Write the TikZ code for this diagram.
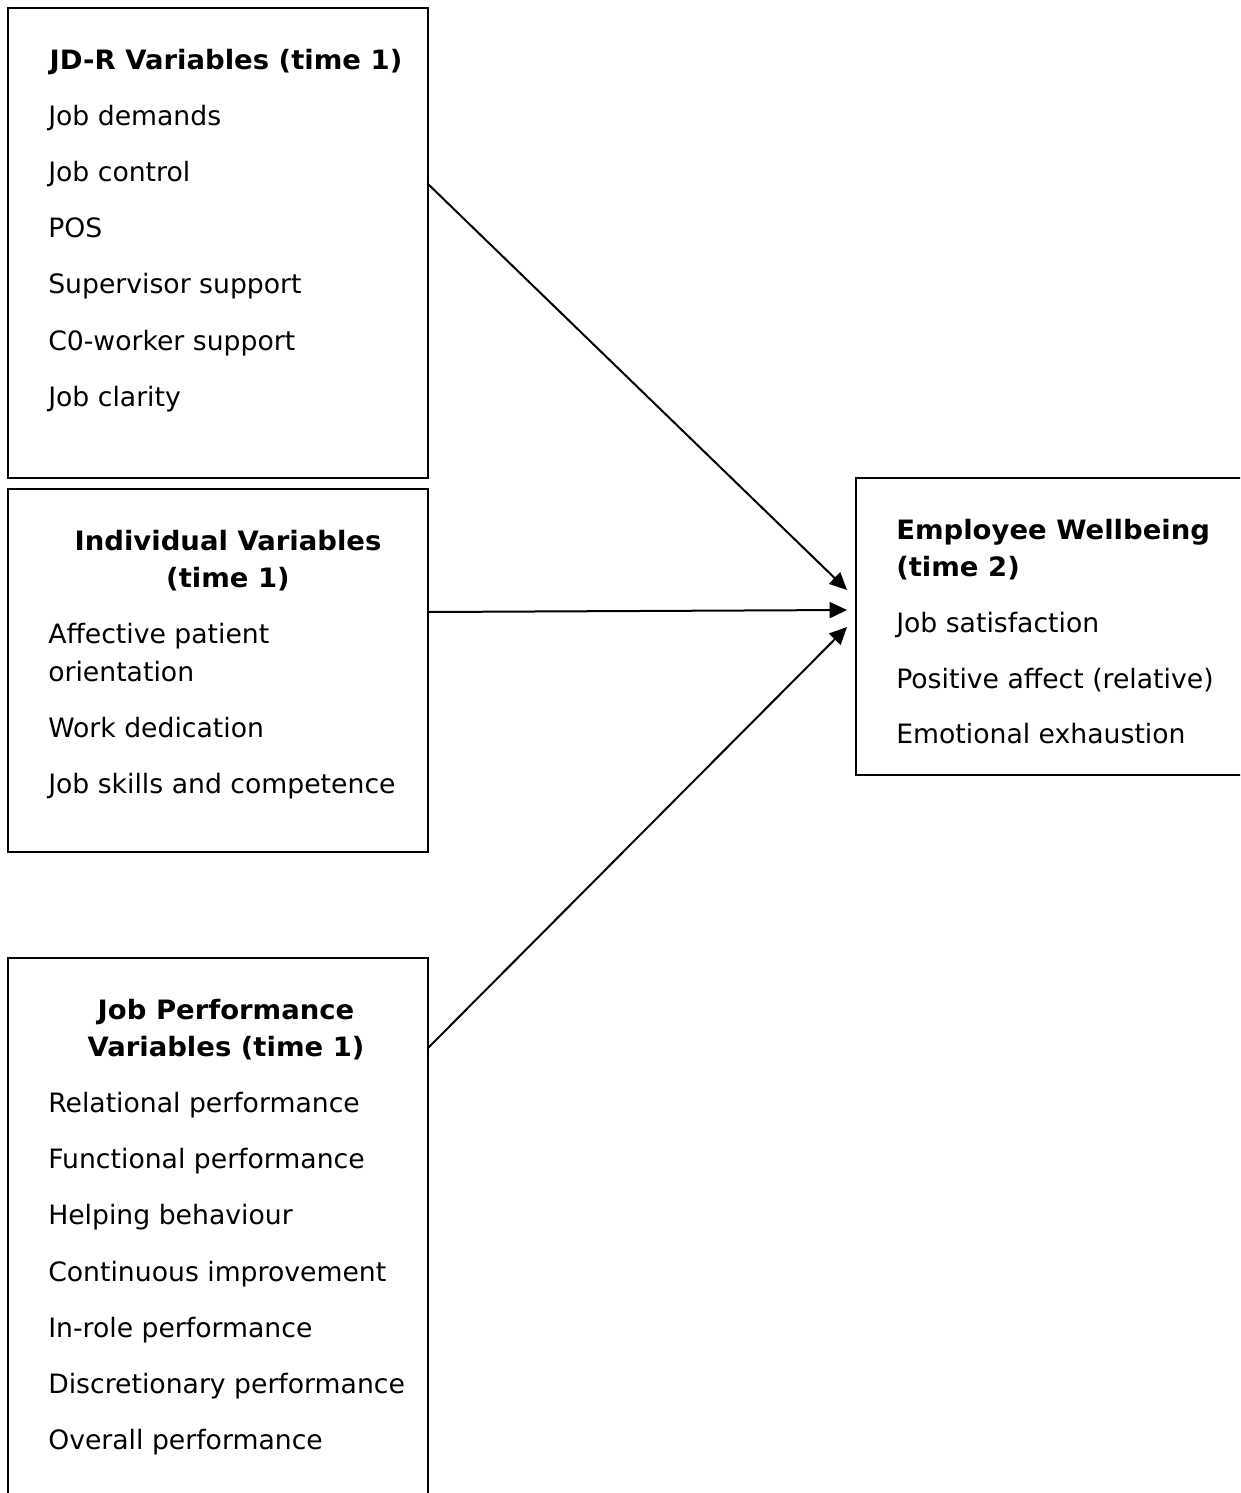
\documentclass[tikz,border=0pt]{standalone}
\usepackage{fontspec}
\setmainfont{DejaVu Sans}[BoldFeatures={FakeStretch=1.03}]
\usetikzlibrary{arrows.meta}
\begin{document}
\begin{tikzpicture}[x=0.75pt,y=-0.75pt,
  box/.style={draw=black,line width=1.5pt,inner sep=0pt},
  item/.style={anchor=base west,inner sep=0pt,font=\fontsize{20}{24}\selectfont},
  head/.style={anchor=base,inner sep=0pt,font=\fontsize{20}{24}\selectfont\bfseries},
  headl/.style={anchor=base west,inner sep=0pt,font=\fontsize{20}{24}\selectfont\bfseries},
  link/.style={line width=1.5pt,-{Triangle[length=13pt,width=12pt]}}]
\clip (0,0) rectangle (1240,1493);

% frames
\draw[box] (8,8) rectangle (428,478);
\draw[box] (8,489) rectangle (428,852);
\draw[box] (8,958) rectangle (428,1520);
\draw[box] (856,478) rectangle (1260,775);

% JD-R variables
\node[head] (jdrT) at (226,69) {JD-R Variables (time 1)};
\node[item] (jdr1) at (48,125) {Job demands};
\node[item] (jdr2) at (48,181) {Job control};
\node[item] (jdr3) at (48,237) {POS};
\node[item] (jdr4) at (48,293) {Supervisor support};
\node[item] (jdr5) at (48,350) {C0-worker support};
\node[item] (jdr6) at (48,406) {Job clarity};

% Individual variables
\node[head] (indT1) at (228,550) {Individual Variables};
\node[head] (indT2) at (228,587) {(time 1)};
\node[item] (ind1) at (48,643) {Affective patient};
\node[item] (ind2) at (48,681) {orientation};
\node[item] (ind3) at (48,737) {Work dedication};
\node[item] (ind4) at (48,793) {Job skills and competence};

% Job performance variables
\node[head] (jpT1) at (226,1019) {Job Performance};
\node[head] (jpT2) at (226,1056) {Variables (time 1)};
\node[item] (jp1) at (48,1112) {Relational performance};
\node[item] (jp2) at (48,1168) {Functional performance};
\node[item] (jp3) at (48,1224) {Helping behaviour};
\node[item] (jp4) at (48,1281) {Continuous improvement};
\node[item] (jp5) at (48,1337) {In-role performance};
\node[item] (jp6) at (48,1393) {Discretionary performance};
\node[item] (jp7) at (48,1449) {Overall performance};

% Employee wellbeing
\node[headl] (ewT1) at (896,539) {Employee Wellbeing};
\node[headl] (ewT2) at (896,576) {(time 2)};
\node[item] (ew1) at (896,632) {Job satisfaction};
\node[item] (ew2) at (896,688) {Positive affect (relative)};
\node[item] (ew3) at (896,743) {Emotional exhaustion};

% connector ends
\coordinate (jdrOut) at (428,184);
\coordinate (indOut) at (428,612);
\coordinate (jpOut) at (428,1048);
\coordinate (ewIn1) at (847,590);
\coordinate (ewIn2) at (847,610);
\coordinate (ewIn3) at (847,627);

\draw[link] (jdrOut) -- (ewIn1);
\draw[link] (indOut) -- (ewIn2);
\draw[link] (jpOut) -- (ewIn3);
\end{tikzpicture}
\end{document}
